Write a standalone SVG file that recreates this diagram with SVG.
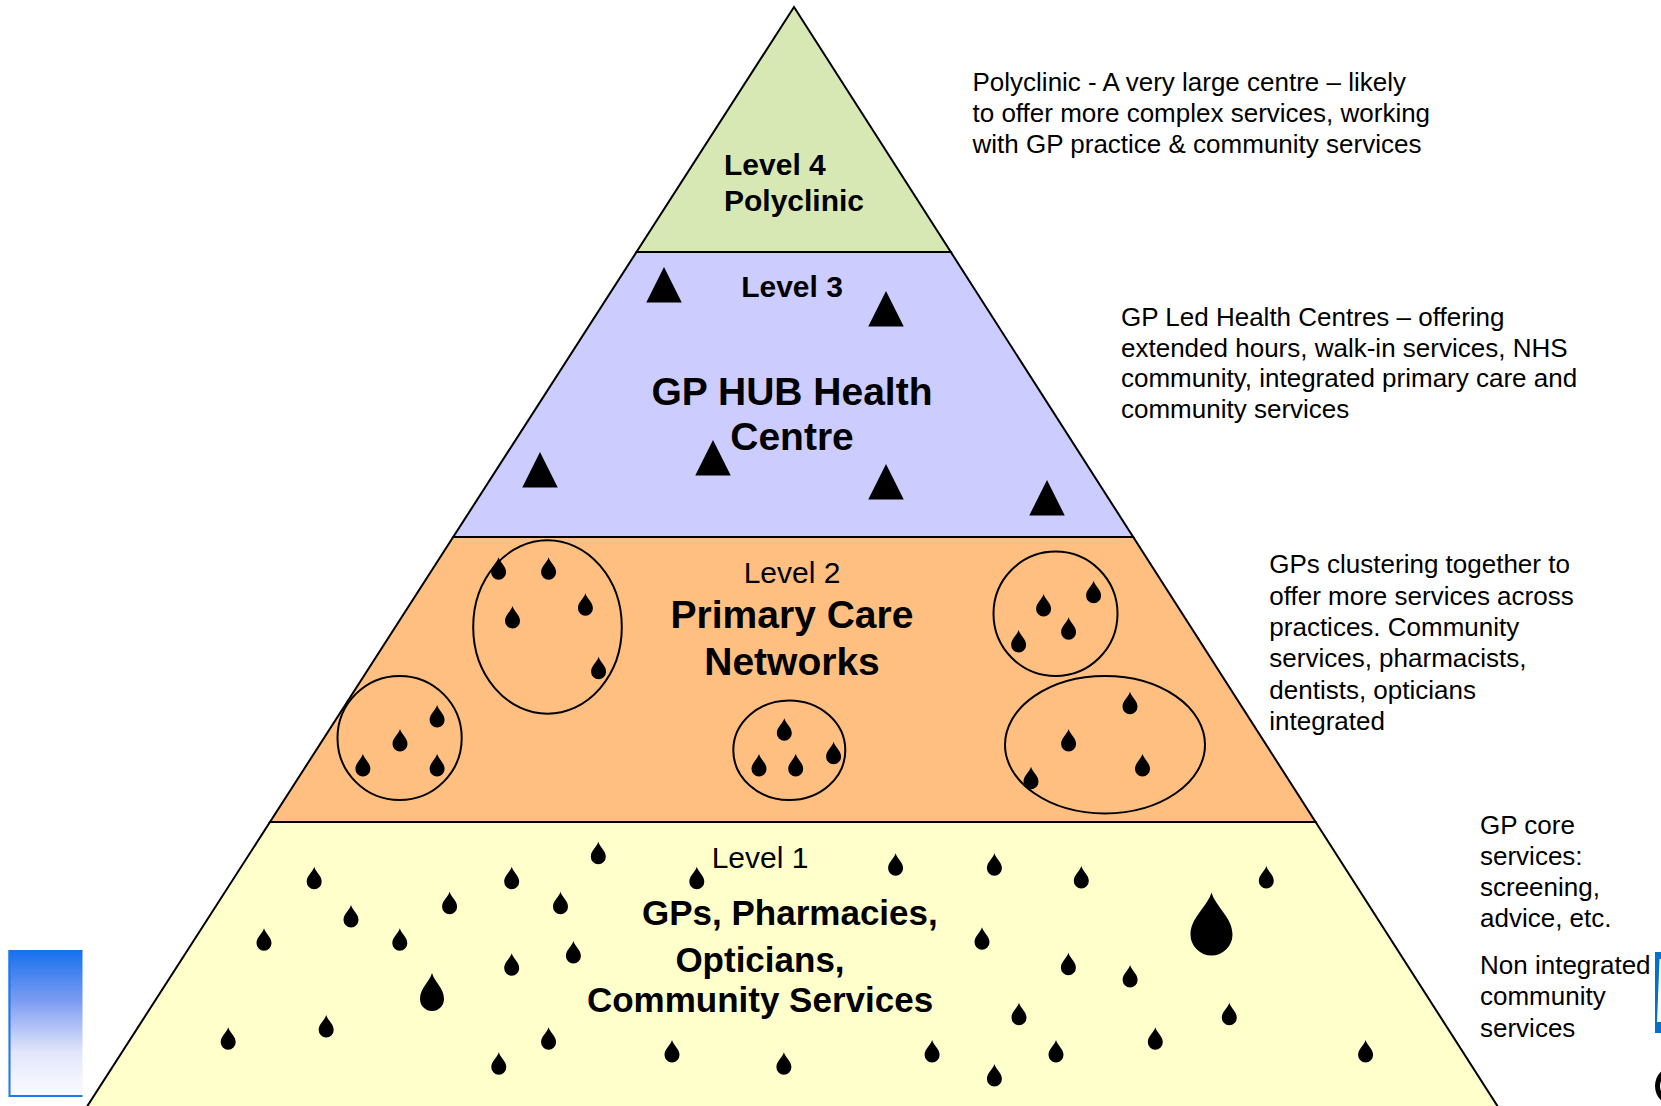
<svg xmlns="http://www.w3.org/2000/svg" width="1661" height="1106" viewBox="0 0 1661 1106">
  <style>
    .lvl { stroke: #000; stroke-width: 2; stroke-linejoin: miter; }
    .ring { fill: none; stroke: #000; stroke-width: 2; }
    .t { font-family: "Liberation Sans", Arial, sans-serif; fill: #000; }
    .hb30 { font-size: 30px; font-weight: bold; }
    .hr30 { font-size: 30px; }
    .hb39 { font-size: 39px; font-weight: bold; }
    .hb35 { font-size: 35px; font-weight: bold; }
    .desc { font-size: 26px; }
    .mid { text-anchor: middle; }
  </style>
  <defs>
    <path id="ds" d="M0,0 C1.5,5.2 7.5,9 7.5,15 A7.5,7.5 0 0 1 -7.5,15 C-7.5,9 -1.5,5.2 0,0 Z" fill="#000"/>
    <path id="dm" d="M0,0 C2.4,9 12,15 12,26 A12,12 0 0 1 -12,26 C-12,15 -2.4,9 0,0 Z" fill="#000"/>
    <path id="dl" d="M0,0 C4,14 21,25 21,42 A21,21 0 0 1 -21,42 C-21,25 -4,14 0,0 Z" fill="#000"/>
    <path id="tri" d="M0,0 L17.75,35.5 L-17.75,35.5 Z" fill="#000"/>
    <linearGradient id="bluegrad" x1="0" y1="0" x2="0" y2="1">
      <stop offset="0" stop-color="#1570EE"/>
      <stop offset="0.35" stop-color="#7D9CF2"/>
      <stop offset="0.7" stop-color="#E2E6FB"/>
      <stop offset="1" stop-color="#FCFCFF"/>
    </linearGradient>
  </defs>

  <!-- Level 1 -->
  <g id="level1">
    <polygon class="lvl" fill="#FFFFCC" points="270,822 1315.6,822 1500,1110 84.8,1110"/>
    <g id="level1-drops">
      <use href="#ds" x="598.3" y="841.7"/>
      <use href="#ds" x="314.2" y="866.7"/>
      <use href="#ds" x="511.7" y="866.7"/>
      <use href="#ds" x="696.8" y="866.7"/>
      <use href="#ds" x="449.6" y="891.7"/>
      <use href="#ds" x="560.5" y="891.7"/>
      <use href="#ds" x="351" y="905"/>
      <use href="#ds" x="264" y="928.3"/>
      <use href="#ds" x="399.8" y="928.3"/>
      <use href="#ds" x="573.4" y="941"/>
      <use href="#ds" x="511.7" y="953.3"/>
      <use href="#ds" x="228.2" y="1027.3"/>
      <use href="#ds" x="326.2" y="1015"/>
      <use href="#ds" x="548.6" y="1027.3"/>
      <use href="#ds" x="498.8" y="1052.3"/>
      <use href="#ds" x="672" y="1040"/>
      <use href="#ds" x="783.9" y="1052.3"/>
      <use href="#ds" x="895.6" y="853.3"/>
      <use href="#ds" x="994.4" y="853.3"/>
      <use href="#ds" x="1081.3" y="866"/>
      <use href="#ds" x="1266.3" y="866"/>
      <use href="#ds" x="982" y="927.3"/>
      <use href="#ds" x="1068.4" y="952.7"/>
      <use href="#ds" x="1130.1" y="965"/>
      <use href="#ds" x="1019" y="1002.7"/>
      <use href="#ds" x="1229.3" y="1002.7"/>
      <use href="#ds" x="1155.3" y="1027.3"/>
      <use href="#ds" x="932.1" y="1040"/>
      <use href="#ds" x="1056" y="1040"/>
      <use href="#ds" x="1365.6" y="1040"/>
      <use href="#ds" x="994.4" y="1064"/>
      <use href="#dm" x="432" y="973"/>
      <use href="#dl" x="1211.5" y="892.5"/>
    </g>
    <text class="t hr30 mid" x="760" y="868">Level 1</text>
    <text class="t hb35" x="642" y="925">GPs, Pharmacies,</text>
    <text class="t hb35 mid" x="760" y="972">Opticians,</text>
    <text class="t hb35 mid" x="760" y="1012">Community Services</text>
  </g>

  <!-- Level 2 -->
  <g id="level2">
    <polygon class="lvl" fill="#FFBF80" points="453.2,537 1133.2,537 1315.6,822 270,822"/>
    <g id="level2-clusters">
      <ellipse class="ring" cx="547.5" cy="627" rx="74.3" ry="86.7"/>
      <ellipse class="ring" cx="399.6" cy="738" rx="62.1" ry="62"/>
      <ellipse class="ring" cx="789.3" cy="750.3" rx="56" ry="49.8"/>
      <ellipse class="ring" cx="1055.5" cy="613.8" rx="62" ry="62.2"/>
      <ellipse class="ring" cx="1105" cy="744.7" rx="100" ry="68.7"/>
    </g>
    <g id="level2-drops">
      <use href="#ds" x="498.6" y="557.3"/>
      <use href="#ds" x="548.6" y="557.3"/>
      <use href="#ds" x="585.4" y="593.3"/>
      <use href="#ds" x="512.5" y="606"/>
      <use href="#ds" x="598.6" y="656.7"/>
      <use href="#ds" x="437.1" y="705"/>
      <use href="#ds" x="400" y="729"/>
      <use href="#ds" x="362.9" y="754"/>
      <use href="#ds" x="437.1" y="754"/>
      <use href="#ds" x="784.3" y="718.3"/>
      <use href="#ds" x="759" y="754"/>
      <use href="#ds" x="795.7" y="754"/>
      <use href="#ds" x="833.6" y="741.7"/>
      <use href="#ds" x="1093.6" y="580.7"/>
      <use href="#ds" x="1043.6" y="594"/>
      <use href="#ds" x="1068.6" y="617.3"/>
      <use href="#ds" x="1018.6" y="630"/>
      <use href="#ds" x="1130" y="691.7"/>
      <use href="#ds" x="1068.6" y="729"/>
      <use href="#ds" x="1142.5" y="754"/>
      <use href="#ds" x="1031" y="766.7"/>
    </g>
    <text class="t hr30 mid" x="792" y="583">Level 2</text>
    <text class="t hb39 mid" x="792" y="628">Primary Care</text>
    <text class="t hb39 mid" x="792" y="675">Networks</text>
  </g>

  <!-- Level 3 -->
  <g id="level3">
    <polygon class="lvl" fill="#CCCCFF" points="636.5,252 950.8,252 1133.2,537 453.2,537"/>
    <g id="level3-hubs">
      <use href="#tri" x="664" y="267"/>
      <use href="#tri" x="886" y="291"/>
      <use href="#tri" x="540" y="452"/>
      <use href="#tri" x="713" y="440"/>
      <use href="#tri" x="886" y="464"/>
      <use href="#tri" x="1047" y="480"/>
    </g>
    <text class="t hb30 mid" x="792" y="297">Level 3</text>
    <text class="t hb39 mid" x="792" y="405">GP HUB Health</text>
    <text class="t hb39 mid" x="792" y="450">Centre</text>
  </g>

  <!-- Level 4 -->
  <g id="level4">
    <polygon class="lvl" fill="#D7E8B4" points="794,7 950.8,252 636.5,252"/>
    <text class="t hb30" x="724" y="175">Level 4</text>
    <text class="t hb30" x="724" y="211">Polyclinic</text>
  </g>

  <!-- Descriptions -->
  <g id="desc-level4">
    <text class="t desc" x="972.5" y="90.7">Polyclinic - A very large centre – likely</text>
    <text class="t desc" x="972.5" y="121.7">to offer more complex services, working</text>
    <text class="t desc" x="972.5" y="152.7">with GP practice &amp; community services</text>
  </g>
  <g id="desc-level3">
    <text class="t desc" x="1121" y="326">GP Led Health Centres – offering</text>
    <text class="t desc" x="1121" y="356.5">extended hours, walk-in services, NHS</text>
    <text class="t desc" x="1121" y="387">community, integrated primary care and</text>
    <text class="t desc" x="1121" y="417.5">community services</text>
  </g>
  <g id="desc-level2">
    <text class="t desc" x="1269.3" y="573.3">GPs clustering together to</text>
    <text class="t desc" x="1269.3" y="604.6">offer more services across</text>
    <text class="t desc" x="1269.3" y="636">practices. Community</text>
    <text class="t desc" x="1269.3" y="667.3">services, pharmacists,</text>
    <text class="t desc" x="1269.3" y="698.6">dentists, opticians</text>
    <text class="t desc" x="1269.3" y="730">integrated</text>
  </g>
  <g id="desc-level1">
    <text class="t desc" x="1480" y="834">GP core</text>
    <text class="t desc" x="1480" y="865">services:</text>
    <text class="t desc" x="1480" y="896">screening,</text>
    <text class="t desc" x="1480" y="927">advice, etc.</text>
    <text class="t desc" x="1480" y="974.3">Non integrated</text>
    <text class="t desc" x="1480" y="1005.3">community</text>
    <text class="t desc" x="1480" y="1036.5">services</text>
  </g>

  <!-- Decorative fragments at edges -->
  <g id="gradient-box">
    <rect x="8.5" y="950" width="74" height="146" fill="url(#bluegrad)"/>
    <path d="M9.5,950 V1096 H82.5" fill="none" stroke="#1A78F0" stroke-width="2"/>
  </g>
  <g id="edge-logo">
    <rect x="1655" y="952" width="7" height="81" fill="#0072CE"/>
    <polygon points="1659.5,959 1661,959 1661,1022 1657,1022" fill="#FFFFFF"/>
    <ellipse cx="1675" cy="1086" rx="20" ry="20" fill="#000"/>
    <ellipse cx="1674" cy="1086" rx="14" ry="13" fill="#FFFFFF"/>
  </g>
</svg>
